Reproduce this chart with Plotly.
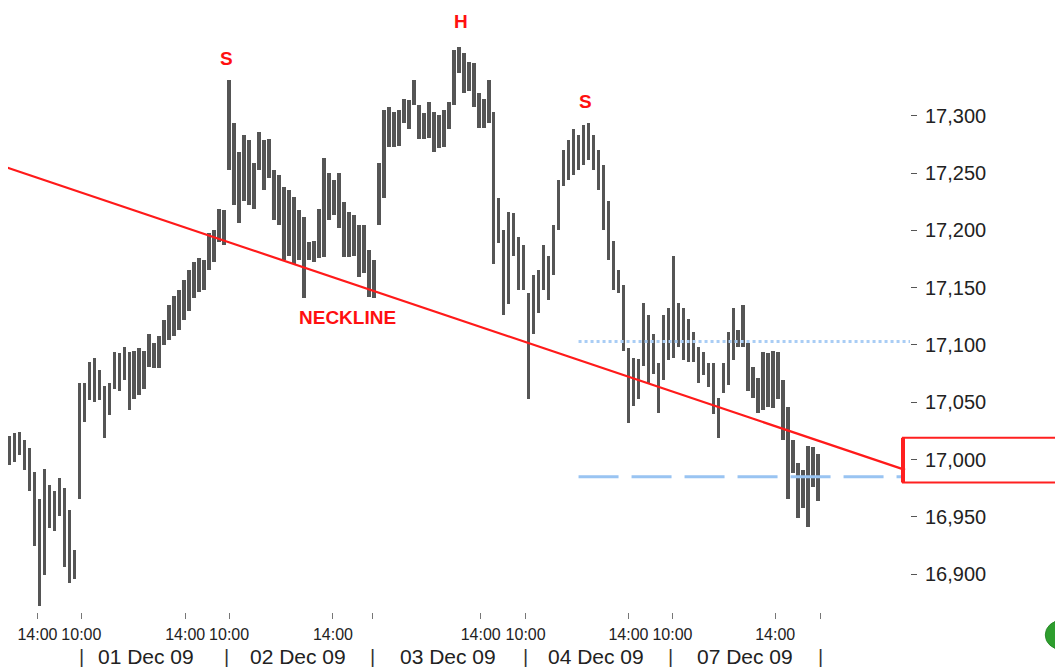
import plotly.graph_objects as go

# ---- data ----
highs = [17021, 17023, 17024, 17017, 17010, 16989, 16966, 16992, 16978, 16973,
         16984, 16975, 16956, 16921, 17067, 17067, 17085, 17089, 17078, 17064,
         17067, 17094, 17093, 17098, 17094, 17095, 17097, 17095, 17110, 17102,
         17108, 17122, 17135, 17143, 17148, 17157, 17165, 17172, 17176, 17174,
         17198, 17200, 17219, 17218, 17331, 17294, 17268, 17283, 17279, 17259,
         17286, 17279, 17280, 17253, 17248, 17238, 17235, 17229, 17218, 17212,
         17190, 17191, 17219, 17263, 17250, 17244, 17250, 17225, 17216, 17213,
         17205, 17205, 17183, 17174, 17259, 17305, 17308, 17303, 17305, 17315,
         17314, 17331, 17309, 17302, 17312, 17303, 17301, 17305, 17312, 17357,
         17360, 17355, 17347, 17346, 17320, 17315, 17331, 17303, 17228, 17200,
         17216, 17215, 17194, 17187, 17145, 17161, 17165, 17187, 17178, 17205,
         17244, 17270, 17279, 17288, 17283, 17292, 17294, 17283, 17270, 17257,
         17226, 17191, 17165, 17152, 17097, 17089, 17088, 17137, 17126, 17110,
         17084, 17126, 17132, 17178, 17137, 17132, 17123, 17111, 17098, 17094,
         17084, 17084, 17054, 17084, 17111, 17132, 17113, 17135, 17102, 17081,
         17071, 17094, 17093, 17095, 17094, 17069, 17046, 17017, 16997, 16991,
         17012, 17011, 17005]
lows = [16995, 16998, 17004, 16991, 16973, 16925, 16872, 16899, 16940, 16938,
        16951, 16906, 16892, 16896, 16966, 17033, 17052, 17050, 17052, 17019,
        17039, 17062, 17060, 17069, 17043, 17053, 17056, 17062, 17081, 17080,
        17080, 17100, 17104, 17108, 17113, 17122, 17130, 17141, 17146, 17148,
        17165, 17172, 17190, 17187, 17253, 17222, 17206, 17226, 17222, 17219,
        17253, 17235, 17246, 17209, 17205, 17174, 17178, 17171, 17174, 17141,
        17174, 17172, 17176, 17177, 17209, 17213, 17202, 17177, 17177, 17178,
        17159, 17163, 17142, 17141, 17205, 17228, 17273, 17273, 17274, 17294,
        17288, 17309, 17280, 17280, 17281, 17268, 17272, 17273, 17288, 17309,
        17337, 17320, 17322, 17308, 17289, 17289, 17294, 17171, 17189, 17126,
        17136, 17178, 17148, 17148, 17053, 17110, 17128, 17148, 17139, 17161,
        17200, 17239, 17244, 17248, 17253, 17257, 17261, 17253, 17235, 17200,
        17174, 17148, 17145, 17095, 17032, 17047, 17053, 17082, 17067, 17075,
        17041, 17069, 17087, 17089, 17098, 17087, 17085, 17085, 17067, 17074,
        17063, 17040, 17019, 17058, 17065, 17087, 17098, 17098, 17060, 17054,
        17041, 17043, 17046, 17045, 17053, 17017, 16966, 16988, 16949, 16958,
        16941, 16976, 16964]
bar_index = list(range(len(highs)))

# time-of-day tick labels (positions in bar index units)
time_tick_vals = [5.6, 14.4, 35.2, 44.0, 64.8, 72.8, 94.4, 103.4, 124.0, 132.8, 153.4, 162.4]
time_tick_text = ["14:00", "10:00", "14:00", "10:00", "14:00", "", "14:00", "10:00",
                  "14:00", "10:00", "14:00", ""]

day_labels = ["01 Dec 09", "02 Dec 09", "03 Dec 09", "04 Dec 09", "07 Dec 09"]
day_centers = [27.4, 57.8, 87.8, 117.4, 147.4]
day_separators = [14.4, 43.4, 72.8, 103.4, 132.4, 162.4]

price_ticks = [16900, 16950, 17000, 17050, 17100, 17150, 17200, 17250, 17300]

neckline_x = [-0.6, 179.4]
neckline_y = [17255, 16991]

target_upper_x = [114, 180.4]
target_upper_y = [17103, 17103]
target_lower_x = [114, 179.4]
target_lower_y = [16985, 16985]

target_box_y = [16980, 17019]

pattern_labels = ["S", "H", "S", "NECKLINE"]
pattern_x = [43.4, 90.4, 115.4, 67.8]
pattern_y = [17350, 17382, 17312, 17124]

FONT = "Liberation Sans"

# ---- figure ----
fig = go.Figure()

fig.add_trace(go.Bar(
    x=bar_index,
    y=[h - l for h, l in zip(highs, lows)],
    base=lows,
    width=0.72,
    marker=dict(color="#555555", line=dict(width=0)),
    hoverinfo="skip",
    showlegend=False,
))

fig.add_trace(go.Scatter(
    x=target_upper_x, y=target_upper_y, mode="lines",
    line=dict(color="#a9cdf5", width=3, dash="dot"), showlegend=False, hoverinfo="skip"))
fig.add_trace(go.Scatter(
    x=target_lower_x, y=target_lower_y, mode="lines",
    line=dict(color="#99c4f2", width=3, dash="40px,13px"), showlegend=False, hoverinfo="skip"))
fig.add_trace(go.Scatter(
    x=neckline_x, y=neckline_y, mode="lines",
    line=dict(color="#ff1a1a", width=2.2), showlegend=False, hoverinfo="skip"))

for txt, xv, yv in zip(pattern_labels, pattern_x, pattern_y):
    fig.add_annotation(x=xv, y=yv, text="<b>%s</b>" % txt, showarrow=False,
                       xanchor="center", yanchor="middle",
                       font=dict(family=FONT, size=19, color="#ff1010"))

for lbl, cx in zip(day_labels, day_centers):
    fig.add_annotation(x=cx, y=-0.0745, xref="x", yref="paper", text=lbl, showarrow=False,
                       xanchor="center", yanchor="middle",
                       font=dict(family=FONT, size=21, color="#222222"))
for sx in day_separators:
    fig.add_annotation(x=sx, y=-0.0745, xref="x", yref="paper", text="|", showarrow=False,
                       xanchor="center", yanchor="middle",
                       font=dict(family=FONT, size=20, color="#333333"))

# target box
fig.add_shape(type="rect", xref="paper", yref="y", x0=895 / 902, x1=1.2,
              y0=target_box_y[0], y1=target_box_y[1],
              line=dict(color="#ff2020", width=2))
fig.add_shape(type="line", xref="paper", yref="y", x0=895 / 902, x1=895 / 902,
              y0=target_box_y[0], y1=target_box_y[1],
              line=dict(color="#ff2020", width=4))
# partial green logo at bottom right
fig.add_shape(type="circle", xref="paper", yref="paper", x0=1.150, x1=1.185,
              y0=-0.062, y1=-0.014, line=dict(color="#2a8a2a", width=1),
              fillcolor="#2e9e2e")

fig.update_layout(
    width=1063, height=667,
    margin=dict(l=0, r=161, t=0, b=63),
    paper_bgcolor="white", plot_bgcolor="white",
    bargap=0,
    xaxis=dict(range=[-0.3, 180.4], tickmode="array", tickvals=time_tick_vals,
               ticktext=time_tick_text, ticks="outside", ticklen=6, tickcolor="#777",
               ticklabelstandoff=2,
               showgrid=False, zeroline=False, showline=False,
               tickfont=dict(family=FONT, size=16, color="#222")),
    yaxis=dict(range=[16867, 17394], side="right", tickmode="array", tickvals=price_ticks,
               tickformat=",d", ticks="outside", ticklen=6, tickcolor="#555",
               ticklabelstandoff=4,
               showgrid=False, zeroline=False, showline=False,
               tickfont=dict(family=FONT, size=20, color="#222")),
)

fig.write_html("out.html")
